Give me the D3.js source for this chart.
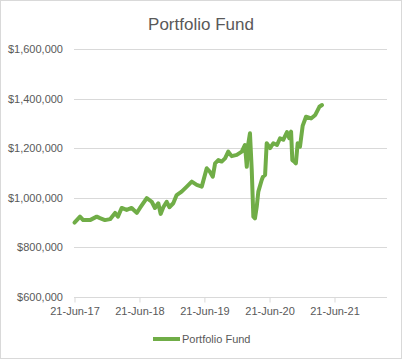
<!DOCTYPE html>
<html>
<head>
<meta charset="utf-8">
<script src="https://cdn.jsdelivr.net/npm/d3@7"></script>
<style>
  body { margin: 0; background: #fff; }
  text { font-family: "Liberation Sans", Arial, sans-serif; fill: #595959; }
</style>
</head>
<body>
<div id="chart"></div>
<script>
// chart data
var title = "Portfolio Fund";
var seriesName = "Portfolio Fund";
var dates = [
  "2017-06-21", "2017-07-22", "2017-08-09", "2017-09-16", "2017-10-24", "2017-11-11",
  "2017-12-09", "2018-01-07", "2018-02-04", "2018-02-20", "2018-03-13", "2018-04-10",
  "2018-05-08", "2018-06-06", "2018-06-24", "2018-08-01", "2018-08-29", "2018-09-16",
  "2018-10-05", "2018-10-18", "2018-11-02", "2018-11-21", "2018-12-06", "2018-12-28",
  "2019-01-16", "2019-02-13", "2019-03-14", "2019-04-11", "2019-05-09", "2019-06-06",
  "2019-07-04", "2019-07-22", "2019-08-07", "2019-08-20", "2019-09-07", "2019-09-26",
  "2019-10-15", "2019-11-02", "2019-11-21", "2019-12-20", "2020-01-17", "2020-02-04",
  "2020-02-14", "2020-02-23", "2020-03-03", "2020-03-13", "2020-03-22", "2020-03-31",
  "2020-04-10", "2020-04-19", "2020-05-08", "2020-05-15", "2020-05-27", "2020-06-05",
  "2020-06-24", "2020-07-12", "2020-08-02", "2020-08-19", "2020-09-06", "2020-09-27",
  "2020-10-10", "2020-10-20", "2020-10-27", "2020-11-07", "2020-11-16", "2020-11-26",
  "2020-12-09", "2020-12-24", "2021-01-12", "2021-02-09", "2021-03-05", "2021-03-28",
  "2021-04-12"
];
var values = [
  900000, 924000, 910000, 910000, 924000, 918000,
  910000, 914000, 939000, 924000, 959000, 951000,
  959000, 939000, 959000, 999000, 984000, 959000,
  978000, 935000, 962000, 984000, 962000, 978000,
  1011000, 1025000, 1045000, 1065000, 1052000, 1045000,
  1119000, 1105000, 1085000, 1139000, 1152000, 1146000,
  1159000, 1186000, 1168000, 1173000, 1186000, 1213000,
  1125000, 1220000, 1260000, 1112000, 924000, 917000,
  964000, 1025000, 1072000, 1085000, 1092000, 1220000,
  1200000, 1220000, 1213000, 1240000, 1234000, 1265000,
  1240000, 1267000, 1152000, 1146000, 1139000, 1220000,
  1206000, 1290000, 1327000, 1320000, 1334000, 1367000,
  1374000
];
var yTicks = [600000, 800000, 1000000, 1200000, 1400000, 1600000];
var xTickLabels = ["21-Jun-17", "21-Jun-18", "21-Jun-19", "21-Jun-20", "21-Jun-21"];
var xEnd = "2022-04-12";

var width = 402, height = 359;
var parseDate = d3.timeParse("%Y-%m-%d");
var parseTick = d3.timeParse("%d-%b-%y");

var data = dates.map(function(d, i) { return { date: parseDate(d), value: values[i] }; });

var svg = d3.select("#chart").append("svg")
  .attr("width", width)
  .attr("height", height);

// chart border
svg.append("rect")
  .attr("x", 0.5).attr("y", 0.5)
  .attr("width", width - 1).attr("height", height - 1)
  .attr("fill", "#fff").attr("stroke", "#d9d9d9");

var x = d3.scaleTime()
  .domain([parseTick(xTickLabels[0]), parseDate(xEnd)])
  .range([74.5, 387]);

var y = d3.scaleLinear()
  .domain([600000, 1600000])
  .range([297, 49]);

// title
svg.append("text")
  .attr("x", 201).attr("y", 30)
  .attr("text-anchor", "middle")
  .style("font-size", "17px")
  .text(title);

// gridlines
svg.append("g").selectAll("line")
  .data(yTicks)
  .enter().append("line")
  .attr("x1", 74).attr("x2", 387)
  .attr("y1", function(d) { return Math.round(y(d)) + 0.5; })
  .attr("y2", function(d) { return Math.round(y(d)) + 0.5; })
  .attr("stroke", "#d9d9d9");

// y labels
var fmt = d3.format("$,");
svg.append("g").selectAll("text")
  .data(yTicks)
  .enter().append("text")
  .attr("x", 63)
  .attr("y", function(d) { return y(d) + 4; })
  .attr("text-anchor", "end")
  .style("font-size", "11px")
  .text(function(d) { return fmt(d); });

// x axis
var xAxis = d3.axisBottom(x)
  .tickValues(xTickLabels.map(parseTick))
  .tickFormat(function(d, i) { return xTickLabels[i]; })
  .tickSize(5)
  .tickSizeOuter(0);

var gx = svg.append("g")
  .attr("transform", "translate(0," + (Math.round(y(600000)) + 0.5) + ")")
  .call(xAxis);
gx.select(".domain").remove();
gx.selectAll("line").attr("stroke", "#d9d9d9");
gx.selectAll("text")
  .attr("y", 10)
  .style("font-size", "11px")
  .style("font-family", "'Liberation Sans', Arial, sans-serif")
  .attr("fill", "#595959");

// line
var line = d3.line()
  .x(function(d) { return x(d.date); })
  .y(function(d) { return y(d.value); });

svg.append("path")
  .datum(data)
  .attr("d", line)
  .attr("fill", "none")
  .attr("stroke", "#70ad47")
  .attr("stroke-width", 4)
  .attr("stroke-linejoin", "round")
  .attr("stroke-linecap", "round");

// legend
svg.append("line")
  .attr("x1", 153).attr("x2", 180)
  .attr("y1", 339).attr("y2", 339)
  .attr("stroke", "#70ad47")
  .attr("stroke-width", 4);

svg.append("text")
  .attr("x", 182).attr("y", 343)
  .style("font-size", "11px")
  .text(seriesName);
</script>
</body>
</html>
